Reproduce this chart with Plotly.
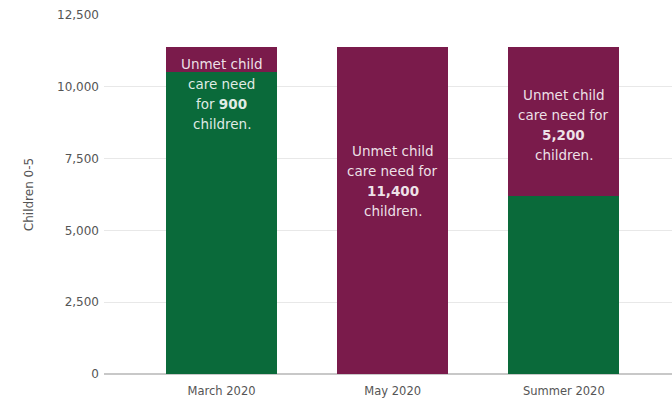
import plotly.graph_objects as go

# ---- data ----
categories = ["March 2020", "May 2020", "Summer 2020"]
met_need = [10500, 0, 6200]          # children whose child care need is met
unmet_need = [900, 11400, 5200]      # children with unmet child care need
label_lines = [
    ["Unmet child", "care need", "for <b>900</b>", "children."],
    ["Unmet child", "care need for", "<b>11,400</b>", "children."],
    ["Unmet child", "care need for", "<b>5,200</b>", "children."],
]
y_ticks = [0, 2500, 5000, 7500, 10000, 12500]
y_title = "Children 0-5"

GREEN = "#0a6a3a"
MAROON = "#7a1b4b"
FONT = "DejaVu Sans"

fig = go.Figure()
fig.add_trace(go.Bar(x=categories, y=met_need, marker=dict(color=GREEN, line=dict(width=0)),
                     width=0.65, name="Met", hoverinfo="skip"))
fig.add_trace(go.Bar(x=categories, y=unmet_need, marker=dict(color=MAROON, line=dict(width=0)),
                     width=0.65, name="Unmet", hoverinfo="skip"))

# labels: anchored at the middle of the unmet segment, with a small pixel nudge
nudge = [-34, 29, -4]
line_gap = 20
for i, cat in enumerate(categories):
    mid = met_need[i] + unmet_need[i] / 2
    n = len(label_lines[i])
    for j, txt in enumerate(label_lines[i]):
        fig.add_annotation(
            x=cat, y=mid, xref="x", yref="y", text=txt, showarrow=False,
            yshift=nudge[i] - (j - (n - 1) / 2) * line_gap,
            font=dict(family=FONT, size=13.5, color="rgba(255,255,255,0.88)"),
            xanchor="center", yanchor="middle",
        )

fig.update_layout(
    barmode="stack",
    width=672, height=399,
    margin=dict(l=104, r=0, t=15, b=25),
    paper_bgcolor="white", plot_bgcolor="white",
    showlegend=False,
    font=dict(family=FONT, size=11, color="#555555"),
)
fig.update_xaxes(
    range=[-0.687, 2.632], showgrid=False, zeroline=False, showline=False,
    ticks="", tickfont=dict(family=FONT, size=11.5, color="#555555"),
    ticklabelstandoff=8,
    automargin=False,
)
fig.update_yaxes(
    range=[0, 12500], tickvals=y_ticks, tickformat=",", showgrid=True,
    gridcolor="#e8e8e8", gridwidth=1, zeroline=True, zerolinecolor="#c8c8c8",
    zerolinewidth=2, showline=False, ticks="",
    tickfont=dict(family=FONT, size=12, color="#555555"),
    ticklabelstandoff=4,
    title=dict(text=y_title, font=dict(family=FONT, size=12, color="#555555"), standoff=20),
    automargin=False,
)

fig.write_html("out.html")
